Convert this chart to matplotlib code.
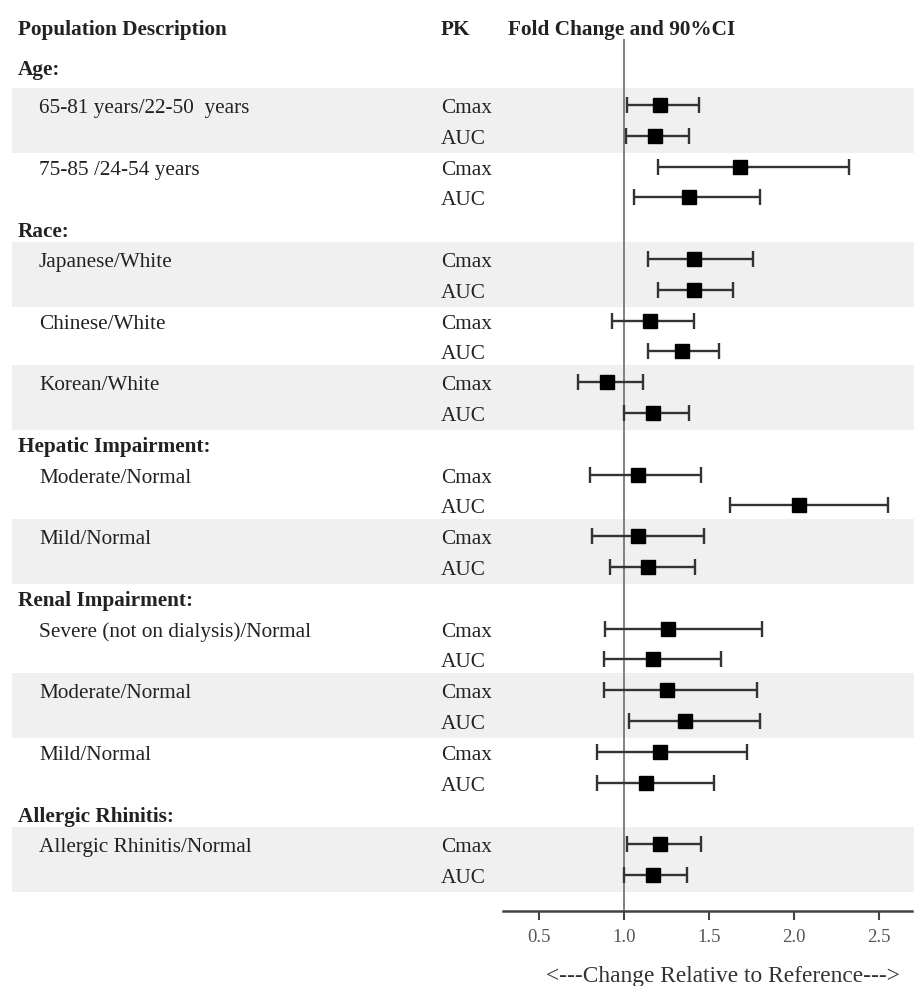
import matplotlib.pyplot as plt
import numpy as np

# population groups and comparisons (each comparison has a Cmax and an AUC row)
group_names = ["Age:", "Race:", "Hepatic Impairment:", "Renal Impairment:", "Allergic Rhinitis:"]
comparisons = [
    ["65-81 years/22-50  years", "75-85 /24-54 years"],
    ["Japanese/White", "Chinese/White", "Korean/White"],
    ["Moderate/Normal", "Mild/Normal"],
    ["Severe (not on dialysis)/Normal", "Moderate/Normal", "Mild/Normal"],
    ["Allergic Rhinitis/Normal"],
]
pk_params = ["Cmax", "AUC"]

# fold change and 90% CI, row by row (Cmax, AUC for each comparison)
fold_change = [1.21, 1.18, 1.68, 1.38, 1.41, 1.41, 1.15, 1.34, 0.90, 1.17, 1.08,
               2.03, 1.08, 1.14, 1.26, 1.17, 1.25, 1.36, 1.21, 1.13, 1.21, 1.17]
ci_low = [1.02, 1.01, 1.20, 1.06, 1.14, 1.20, 0.93, 1.14, 0.73, 1.00, 0.80,
          1.62, 0.81, 0.92, 0.89, 0.88, 0.88, 1.03, 0.84, 0.84, 1.02, 1.00]
ci_high = [1.44, 1.38, 2.32, 1.80, 1.76, 1.64, 1.41, 1.56, 1.11, 1.38, 1.45,
           2.55, 1.47, 1.42, 1.81, 1.57, 1.78, 1.80, 1.72, 1.53, 1.45, 1.37]
x_ticks = [0.5, 1.0, 1.5, 2.0, 2.5]

plt.rcParams['font.family'] = ['Liberation Serif', 'DejaVu Serif']

W, H = 914, 987
fig = plt.figure(figsize=(W / 100, H / 100), dpi=100)

ax_top, ax_bot = 40, 911.7
ax = fig.add_axes([503 / W, 1 - ax_bot / H, (912 - 503) / W, (ax_bot - ax_top) / H])
bg = fig.add_axes([0, 1 - ax_bot / H, 1, (ax_bot - ax_top) / H], sharey=ax)
bg.set_zorder(0)
ax.set_zorder(1)
ax.patch.set_visible(False)
bg.axis('off')

# work out row positions
header_y = []
label_y = []
row_y = []
row_pk = []
k = -1
for g, comps in enumerate(comparisons):
    # first header sits a little higher in the original
    header_y.append(k - 0.25 if g == 0 else k)
    k += 1
    for c in comps:
        label_y.append(k)
        for p in pk_params:
            row_y.append(k)
            row_pk.append(p)
            k += 1

row_step = 30.8
y_top = (ax_top - 106) / row_step
y_bot = (ax_bot - 106) / row_step
ax.set_ylim(y_bot, y_top)

# shaded bands on every other comparison
for i, y in enumerate(label_y):
    if i % 2 == 0:
        bg.axhspan(y - 0.56, y + 1.56, xmin=12 / W, xmax=1, color='#f0f0f0', lw=0)

tr = bg.get_yaxis_transform()
text_kw = dict(va='center_baseline', fontsize=15.3, color='#222222', transform=tr)
title_y = (28 - 106) / row_step
bg.text(18 / W, title_y, "Population Description", fontweight='bold', **text_kw)
bg.text(441 / W, title_y, "PK", fontweight='bold', **text_kw)
bg.text(508 / W, title_y, "Fold Change and 90%CI", fontweight='bold', **text_kw)

for name, y in zip(group_names, header_y):
    bg.text(18 / W, y, name, fontweight='bold', **text_kw)

flat_labels = [c for comps in comparisons for c in comps]
for name, y in zip(flat_labels, label_y):
    bg.text(39 / W, y, name, **text_kw)

for p, y in zip(row_pk, row_y):
    bg.text(441 / W, y, p, **text_kw)

# forest plot
fc = np.array(fold_change)
err = [fc - np.array(ci_low), np.array(ci_high) - fc]
ax.axvline(1.0, color='#777777', lw=1.3, zorder=1)
ax.errorbar(fc, row_y, xerr=err, fmt='s', ms=10, mfc='black', mec='black',
            ecolor='#333333', elinewidth=1.7, capsize=5.5, capthick=1.7, zorder=3)

ax.set_xlim(1 + (503 - 624) / 170.2, 1 + (912 - 624) / 170.2)
ax.set_xticks(x_ticks)
ax.set_xticklabels([f"{t:.1f}" for t in x_ticks])
ax.set_yticks([])
for s in ['left', 'top', 'right']:
    ax.spines[s].set_visible(False)
ax.spines['bottom'].set_color('#444444')
ax.spines['bottom'].set_linewidth(1.8)
ax.tick_params(axis='x', direction='out', length=6.5, width=1.5, color='#444444',
               labelsize=13.5, labelcolor='#555555', pad=6)

fig.text(723 / W, 1 - 977 / H, "<---Change Relative to Reference--->", ha='center', va='center',
         fontsize=16.8, color='#333333')

fig.savefig("out.png", dpi=100)
